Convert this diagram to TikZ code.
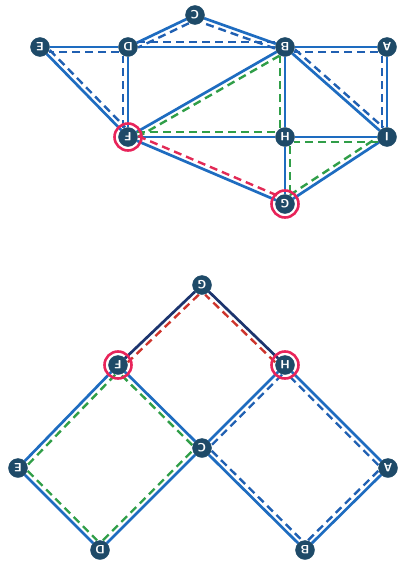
\documentclass[tikz,border=0pt]{standalone}
\usetikzlibrary{calc}
\pgfdeclarelayer{background}
\pgfsetlayers{background,main}
\definecolor{edgeblue}{RGB}{30,108,192}
\definecolor{navy}{RGB}{28,52,110}
\definecolor{dblue}{RGB}{32,96,178}
\definecolor{dgreen}{RGB}{48,158,72}
\definecolor{dred}{RGB}{226,42,86}
\definecolor{brick}{RGB}{205,52,44}
\definecolor{nodefill}{RGB}{30,74,104}
\definecolor{ringred}{RGB}{232,36,90}
\tikzset{
  vtx/.style={circle,fill=nodefill,draw=nodefill,minimum size=19pt,inner sep=0pt,
    text=white,font=\sffamily\bfseries\large,rotate=180},
  ring/.style={circle,draw=ringred,line width=2.6pt,minimum size=27pt,inner sep=0pt},
  sol/.style={draw=edgeblue,line width=2.7pt},
  dl/.style={line width=2.4pt,dash pattern=on 8pt off 5pt,shorten <=9pt,shorten >=9pt}
}
\newcommand\offd[3]{\draw[dl,#1] ($(#2)!4.8pt!90:(#3)$) -- ($(#3)!4.8pt!-90:(#2)$);}
\begin{document}
\begin{tikzpicture}[x=1pt,y=-1pt]
\useasboundingbox (0,0) rectangle (413,573);
% top graph nodes
\node[vtx] (E) at (40,47) {E};
\node[vtx] (D) at (128,47) {D};
\node[vtx] (C) at (195,15) {C};
\node[vtx] (B) at (285,47) {B};
\node[vtx] (A) at (387,47) {A};
\node[vtx] (F) at (128,137) {F};
\node[vtx] (H) at (285,137) {H};
\node[vtx] (I) at (387,137) {I};
\node[vtx] (G) at (285,204) {G};
\node[ring] (rF) at (F) {};
\node[ring] (rG) at (G) {};
% bottom graph nodes
\node[vtx] (G2) at (202,285) {G};
\node[vtx] (F2) at (118,365) {F};
\node[vtx] (H2) at (285,365) {H};
\node[vtx] (C2) at (202,448) {C};
\node[vtx] (E2) at (18,468) {E};
\node[vtx] (A2) at (388,468) {A};
\node[vtx] (D2) at (100,550) {D};
\node[vtx] (B2) at (305,550) {B};
\node[ring] (rF2) at (F2) {};
\node[ring] (rH2) at (H2) {};
\begin{pgfonlayer}{background}
% top solid edges
\foreach \a/\b in {E/D,D/B,B/A,D/C,C/B,E/F,D/F,F/B,B/H,B/I,A/I,F/H,H/I,F/G,H/G,G/I}
  \draw[sol] (\a) -- (\b);
% top dashed triangles
\offd{dblue}{D}{B}\offd{dblue}{B}{C}\offd{dblue}{C}{D}
\offd{dblue}{E}{F}\offd{dblue}{F}{D}\offd{dblue}{D}{E}
\offd{dblue}{B}{I}\offd{dblue}{I}{A}\offd{dblue}{A}{B}
\offd{dgreen}{F}{H}\offd{dgreen}{H}{B}\offd{dgreen}{B}{F}
\offd{dgreen}{H}{G}\offd{dgreen}{G}{I}\offd{dgreen}{I}{H}
\offd{dred}{F}{G}
% bottom solid edges
\draw[sol,draw=navy] (G2) -- (F2);
\draw[sol,draw=navy] (G2) -- (H2);
\foreach \a/\b in {F2/E2,E2/D2,D2/C2,C2/F2,H2/C2,C2/B2,B2/A2,A2/H2}
  \draw[sol] (\a) -- (\b);
% bottom dashed
\offd{dgreen}{F2}{E2}\offd{dgreen}{E2}{D2}\offd{dgreen}{D2}{C2}\offd{dgreen}{C2}{F2}
\offd{dblue}{H2}{C2}\offd{dblue}{C2}{B2}\offd{dblue}{B2}{A2}\offd{dblue}{A2}{H2}
\offd{brick}{G2}{F2}\offd{brick}{H2}{G2}
\end{pgfonlayer}
\end{tikzpicture}
\end{document}
